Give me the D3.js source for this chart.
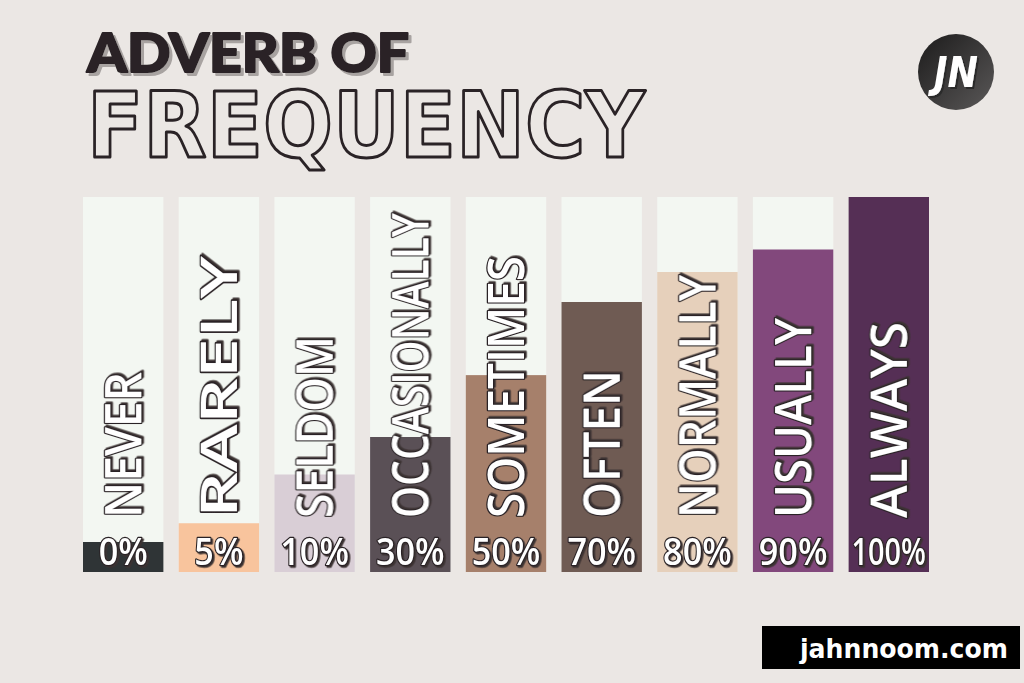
<!DOCTYPE html>
<html>
<head>
<meta charset="utf-8">
<script src="https://cdn.jsdelivr.net/npm/d3@7"></script>
<style>
html,body{margin:0;padding:0;background:#ebe7e4;}
svg{display:block;}
</style>
</head>
<body>
<svg id="chart" width="1024" height="683"></svg>
<script>
// ---- data ----
const categories = ["NEVER","RARELY","SELDOM","OCCASIONALLY","SOMETIMES","OFTEN","NORMALLY","USUALLY","ALWAYS"];
const percentLabels = ["0%","5%","10%","30%","50%","70%","80%","90%","100%"];
// visual fill level of each bar (fraction of bar height)
const fillLevels = [0.08, 0.13, 0.26, 0.36, 0.525, 0.72, 0.80, 0.86, 1.0];
const barColors = ["#2f3436","#f8c49d","#d9ced6","#5a5056","#a6806b","#6f5b53","#e6d0bb","#82487c","#552f55"];
// styling: rendered length of each rotated word
const labelFit = [146, 262, 182, 305, 262, 148, 243, 200, 196];

const W = 1024, H = 683;
const svg = d3.select("#chart");
svg.append("rect").attr("width",W).attr("height",H).attr("fill","#ebe7e4");

const defs = svg.append("defs");
const grad = defs.append("linearGradient").attr("id","logoGrad")
  .attr("x1","0").attr("y1","0").attr("x2","1").attr("y2","1");
grad.append("stop").attr("offset","0").attr("stop-color","#1c1b1b");
grad.append("stop").attr("offset","1").attr("stop-color","#5a5858");

defs.append("filter").attr("id","titleShadow").attr("x","-10%").attr("y","-20%").attr("width","130%").attr("height","150%")
  .append("feDropShadow").attr("dx",3).attr("dy",3).attr("stdDeviation",0).attr("flood-color","#a8a3a1").attr("flood-opacity",1);
defs.append("filter").attr("id","labelShadow").attr("x","-20%").attr("y","-20%").attr("width","140%").attr("height","140%")
  .append("feDropShadow").attr("dx",1.6).attr("dy",1.6).attr("stdDeviation",0).attr("flood-color","#3a3032").attr("flood-opacity",1);
defs.append("filter").attr("id","logoShadow").attr("x","-20%").attr("y","-20%").attr("width","140%").attr("height","140%")
  .append("feDropShadow").attr("dx",2).attr("dy",2).attr("stdDeviation",0).attr("flood-color","#2a2a2a").attr("flood-opacity",1);

// ---- title ----
svg.append("text").attr("x",87).attr("y",72)
  .attr("font-family","Lato, 'Liberation Sans', sans-serif").attr("font-weight",900)
  .attr("font-size",54).attr("fill","#2a2326").attr("stroke","#2a2326").attr("stroke-width",2)
  .attr("stroke-linejoin","round").attr("filter","url(#titleShadow)")
  .attr("textLength",322).attr("lengthAdjust","spacingAndGlyphs")
  .text("ADVERB OF");
svg.append("text").attr("x",87).attr("y",157)
  .attr("font-family","'DejaVu Sans', sans-serif").attr("font-weight",700)
  .attr("font-size",90).attr("fill","#ebe7e4").attr("stroke","#2a2326").attr("stroke-width",3)
  .attr("stroke-linejoin","round")
  .attr("textLength",558).attr("lengthAdjust","spacingAndGlyphs")
  .text("FREQUENCY");

// ---- logo ----
const logo = svg.append("g").attr("transform","translate(956,72)");
logo.append("circle").attr("r",38).attr("fill","url(#logoGrad)");
logo.append("text").attr("x",0).attr("y",15).attr("text-anchor","middle")
  .attr("font-family","'DejaVu Sans', sans-serif").attr("font-weight",700).attr("font-style","italic")
  .attr("font-size",42).attr("fill","#ffffff").attr("filter","url(#logoShadow)")
  .attr("textLength",44).attr("lengthAdjust","spacingAndGlyphs").text("JN");

// ---- scales ----
const x = d3.scaleBand().domain(categories).range([83, 929]).paddingInner(0.16).paddingOuter(0);
const y = d3.scaleLinear().domain([0,1]).range([572, 197]);

const bars = svg.append("g").selectAll("g").data(categories).join("g");
bars.append("rect")
  .attr("x", d => x(d)).attr("width", x.bandwidth())
  .attr("y", y(1)).attr("height", y(0) - y(1))
  .attr("fill", "#f3f7f2");
bars.append("rect")
  .attr("x", d => x(d)).attr("width", x.bandwidth())
  .attr("y", (d,i) => y(fillLevels[i])).attr("height", (d,i) => y(0) - y(fillLevels[i]))
  .attr("fill", (d,i) => barColors[i]);

function outlined(g, txt, opts) {
  return g.append("text").text(txt).attr("x",0).attr("y",0)
    .attr("font-family",opts.font).attr("font-weight",opts.weight).attr("font-size",opts.size)
    .attr("text-anchor",opts.anchor).attr("fill","#ffffff").attr("stroke","#2a2326").attr("stroke-width",2.4)
    .attr("stroke-linejoin","round").attr("paint-order","stroke")
    .attr("filter","url(#labelShadow)")
    .attr("textLength",opts.len).attr("lengthAdjust","spacingAndGlyphs");
}

// ---- rotated words ----
bars.each(function(d,i){
  const cx = x(d) + x.bandwidth()/2;
  const g = d3.select(this).append("g")
    .attr("transform", `translate(${cx + 18},${y(0) - 54}) rotate(-90)`);
  outlined(g, d, {font:"'Open Sans', 'DejaVu Sans', sans-serif", weight:600, size:50,
    anchor:"start", len:labelFit[i]});
});

// ---- percent labels ----
bars.each(function(d,i){
  const cx = x(d) + x.bandwidth()/2;
  const g = d3.select(this).append("g").attr("transform", `translate(${cx},${y(0) - 7})`);
  const t = percentLabels[i];
  const probe = g.append("text").text(t).attr("font-family","'Open Sans', sans-serif")
    .attr("font-weight",600).attr("font-size",38);
  let len = probe.node().getComputedTextLength();
  probe.remove();
  len = Math.min(len * 0.9, x.bandwidth() - 6);
  outlined(g, t, {font:"'Open Sans', sans-serif", weight:600, size:38, anchor:"middle", len:len});
});

// ---- footer ----
svg.append("rect").attr("x",762).attr("y",626).attr("width",258).attr("height",43).attr("fill","#000000");
svg.append("text").attr("x",904).attr("y",658).attr("text-anchor","middle")
  .attr("font-family","'DejaVu Sans', sans-serif").attr("font-weight",700).attr("font-size",26)
  .attr("fill","#ffffff").attr("textLength",208).attr("lengthAdjust","spacingAndGlyphs")
  .text("jahnnoom.com");
</script>
</body>
</html>
